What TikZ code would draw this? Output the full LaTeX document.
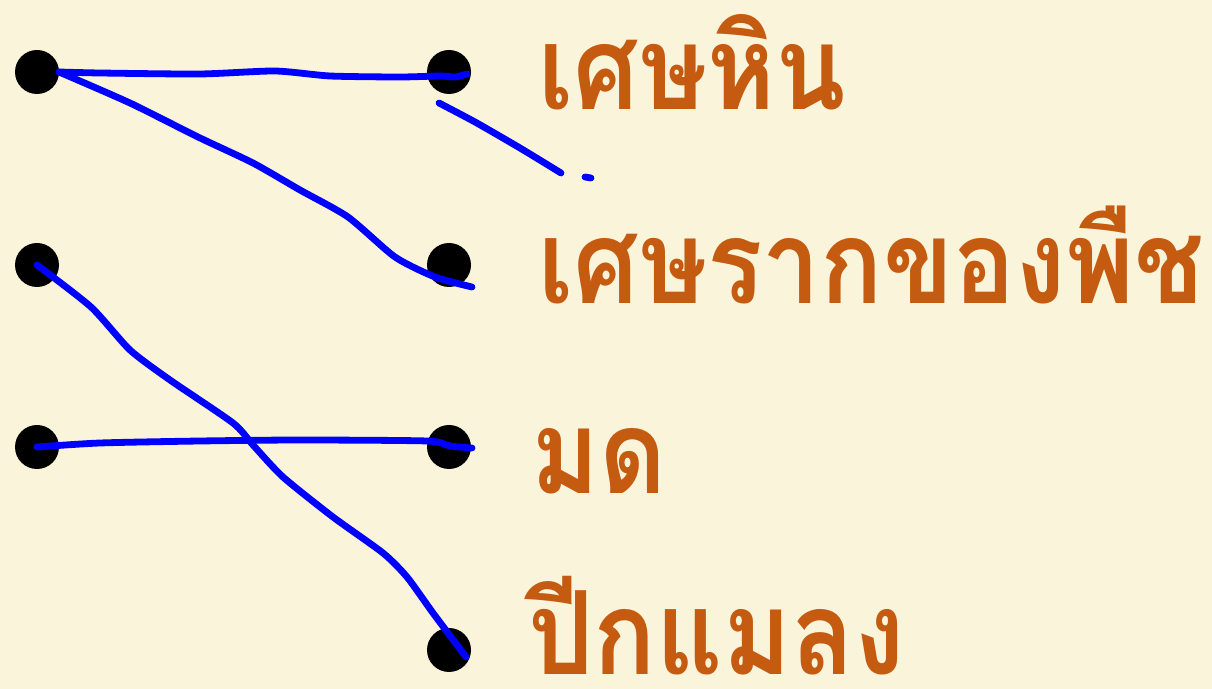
\documentclass[tikz,border=0pt]{standalone}
\usepackage{fontspec}
\newfontfamily\thaifont[Script=Thai, FakeStretch=0.89]{Loma}
\usepackage{tikz}
\usetikzlibrary{
  calc,%
  positioning
}
\definecolor{paper}{HTML}{FAF5DA}
\definecolor{rust}{HTML}{C55A11}
\definecolor{ink}{HTML}{0000FF}
\tikzset{dot/.style={circle, fill=black, minimum size=22pt, inner sep=0pt}}
\tikzset{word/.style={anchor=base west, inner sep=0pt, text=rust, text depth=0pt,
    font=\thaifont\bfseries\fontsize{58}{60}\selectfont}}
\tikzset{pen/.style={draw=ink, line width=3.4pt, line cap=round, line join=round}}

\begin{document}
\begin{tikzpicture}[x=0.5pt, y=-0.5pt]
              \fill[paper] (0, 0) rectangle (1212, 689); %
              \useasboundingbox (0, 0) rectangle (1212, 689); %
              % dots
              \node[dot] (l1) at (37, 72) {}; %
              \node[dot] (l2) at (37, 265) {}; %
              \node[dot] (l3) at (37, 447) {}; %
              \node[dot] (r1) at (449, 72) {}; %
              \node[dot] (r2) at (449, 265) {}; %
              \node[dot] (r3) at (449, 447) {}; %
              \node[dot] (r4) at (449, 650) {}; %
              % words
              \node[word] (w1) at (538, 110) {เศษหิน}; %
              \node[word] (w2) at (538, 304) {เศษรากของพืช}; %
              \node[word] (w3) at (531, 494) {มด}; %
              \node[word] (w4) at (528, 675) {ปีกแมลง}; %
              % pen strokes
              \coordinate (s1) at ($(l1.center)+(22, 0)$); %
              \coordinate (e1) at ($(r1.center)+(18, 2)$); %
              \coordinate (e2) at ($(r2.center)+(23, 22)$); %
              \coordinate (e3) at ($(r4.center)+(17, 7)$); %
              \coordinate (e4) at ($(r3.center)+(23, 1)$); %
              \draw[pen] plot[smooth, tension=0.4] coordinates {(s1) (100, 73) (200, 74) (275, 71) (330, 76) (400, 77) (440, 76) (455, 77) (e1)}; %
              \draw[pen] plot[smooth, tension=0.4] coordinates {(s1) (130, 103) (198, 137) (253, 163) (300, 190) (348, 217) (395, 257) (435, 277) (e2)}; %
              \draw[pen] plot[smooth, tension=0.4] coordinates {(l2.center) (91, 307) (130, 350) (170, 380) (233, 423) (253, 445) (283, 477) (333, 517) (383, 553) (407, 577) (433, 613) (e3)}; %
              \draw[pen] plot[smooth, tension=0.4] coordinates {(l3.center) (100, 443) (200, 441) (300, 440) (427, 441) (450, 446) (e4)}; %
              \draw[pen] plot[smooth, tension=0.4] coordinates {(439, 103) (475, 122) (520, 148) (561, 173)}; %
              \draw[pen] (585, 177) -- (591, 178); %
            \end{tikzpicture}
\end{document}
